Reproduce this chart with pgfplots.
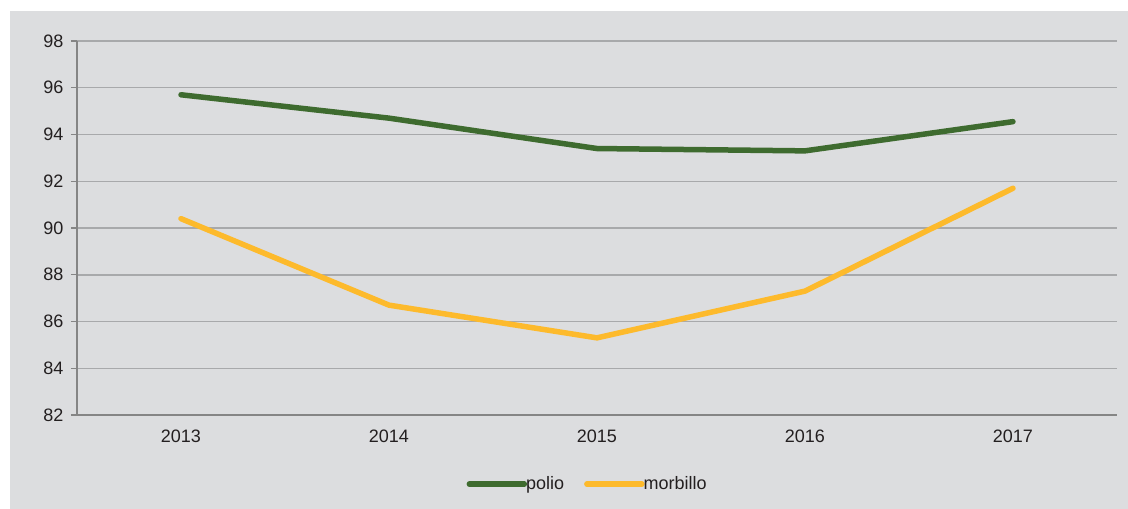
\documentclass[border=0pt]{standalone}
\usepackage{pgfplots}
\pgfplotsset{compat=1.18}
\usepackage{fontspec}
\setmainfont{Liberation Sans}
\definecolor{bg}{HTML}{DCDDDF}
\definecolor{gridc}{HTML}{A8A9AB}
\definecolor{axc}{HTML}{858585}
\definecolor{polio}{HTML}{3E6B2F}
\definecolor{morb}{HTML}{FDBA2C}
\definecolor{txt}{HTML}{231F20}
\begin{document}
\begin{tikzpicture}[x=1pt,y=1pt]
\path[use as bounding box] (-77,-94) rectangle (1051,415);
\fill[bg] (-67,-94) rectangle (1051,404);
\begin{axis}[
  at={(0,0)}, anchor=south west,
  scale only axis, width=1040pt, height=374pt,
  xmin=-0.5, xmax=4.5, ymin=82, ymax=98,
  axis x line*=bottom, axis y line*=left,
  axis line style={axc, line width=1.2pt, -},
  xtick={0,1,2,3,4},
  xticklabels={2013,2014,2015,2016,2017},
  minor xtick={-0.5,0.5,1.5,2.5,3.5,4.5},
  ytick={82,84,...,98},
  tick align=outside,
  major tick length=6pt, minor tick length=6pt,
  xtick style={draw=none},
  minor x tick style={axc, line width=1.2pt},
  ytick style={axc, line width=1.2pt},
  ymajorgrids, major grid style={gridc, line width=1.5pt},
  /pgf/number format/assume math mode=true,
  ticklabel style={font=\fontsize{18}{21}\selectfont, text=txt},
  xticklabel style={yshift=-5pt},
  yticklabel style={xshift=-4pt},
  legend style={at={(0.491,-0.185)}, anchor=center, draw=none, fill=none,
    font=\fontsize{18}{21}\selectfont, text=txt, legend columns=2,
    /tikz/every even column/.append style={column sep=18pt},
    legend cell align=left},
  legend image code/.code={\draw[#1, line cap=round] (0pt,0pt) -- (55pt,0pt);},
  every axis plot/.append style={line width=5.5pt, line cap=round, line join=round},
]
\addplot[polio] coordinates {(0,95.7) (1,94.7) (2,93.4) (3,93.3) (4,94.55)};
\addlegendentry{\hspace{-3pt}polio}
\addplot[morb] coordinates {(0,90.4) (1,86.7) (2,85.3) (3,87.3) (4,91.7)};
\addlegendentry{\hspace{-3pt}morbillo}
\end{axis}
\end{tikzpicture}
\end{document}
